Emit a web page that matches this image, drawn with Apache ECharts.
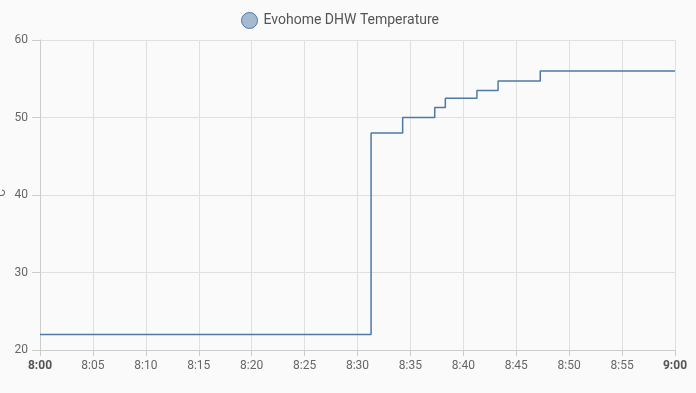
<!DOCTYPE html>
<html>
<head>
<meta charset="utf-8">
<script src="https://cdn.jsdelivr.net/npm/echarts@6/dist/echarts.min.js"></script>
<style>
html,body{margin:0;padding:0;background:#fafafa;}
#chart{width:696px;height:393px;}
</style>
</head>
<body>
<div id="chart"></div>
<script>
const seriesName = "Evohome DHW Temperature";
const yAxisName = "°C";
const times = ["8:00:00","8:31:17","8:34:16","8:37:18","8:38:18","8:41:17","8:43:17","8:47:16","9:00:00"];
const values = [22, 48, 50, 51.3, 52.5, 53.5, 54.7, 56, 56];
const yTicks = [20, 30, 40, 50, 60];

function toDate(s){
  const p = s.split(":").map(Number);
  return new Date(2024, 0, 15, p[0], p[1], p[2]).getTime();
}
const data = times.map((t,i)=>[toDate(t), values[i]]);
const xMin = toDate("8:00:00"), xMax = toDate("9:00:00");
const step = 5*60*1000;

const chart = echarts.init(document.getElementById('chart'));
chart.setOption({
  backgroundColor: '#fafafa',
  animation: false,
  textStyle: {fontFamily: 'Roboto'},
  legend: {
    top: 7,
    left: 236,
    icon: 'circle',
    itemWidth: 16, itemHeight: 16,
    itemGap: 10,
    textStyle: {fontSize: 14, color: '#555', fontFamily: 'Roboto', padding: [0,0,0,1]},
    itemStyle: {color: 'rgba(78,121,167,0.5)', borderColor: '#4e79a7', borderWidth: 1},
    data: [seriesName]
  },
  grid: {left: 40, right: 21, top: 40, bottom: 43, containLabel: false, outerBoundsMode: 'none'},
  xAxis: {
    type: 'value',
    min: xMin, max: xMax,
    interval: step,
    axisLine: {show: true, lineStyle: {color: '#ccc'}},
    axisTick: {show: true, length: 6, lineStyle: {color: '#ccc'}},
    splitLine: {show: true, lineStyle: {color: '#e0e0e0'}},
    axisLabel: {
      fontSize: 12, color: '#666', margin: 10, hideOverlap: false, showMinLabel: true, showMaxLabel: true,
      formatter: function(v){
        const d = new Date(v);
        const s = d.getHours() + ":" + String(d.getMinutes()).padStart(2,'0');
        return d.getMinutes() === 0 ? '{b|' + s + '}' : s;
      },
      rich: {b: {fontWeight: 'bold', fontSize: 12, color: '#555'}}
    }
  },
  yAxis: {
    type: 'value',
    min: yTicks[0], max: yTicks[yTicks.length-1], interval: 10,
    name: yAxisName,
    nameLocation: 'middle',
    nameGap: 32,
    nameMoveOverlap: false,
    nameRotate: 90,
    nameTextStyle: {fontSize: 12, color: '#666'},
    axisLine: {show: true, lineStyle: {color: '#ccc'}},
    axisTick: {show: true, length: 8, lineStyle: {color: '#ccc'}},
    splitLine: {show: true, lineStyle: {color: '#e0e0e0'}},
    axisLabel: {fontSize: 12, color: '#666', margin: 12}
  },
  series: [{
    name: seriesName,
    type: 'line',
    step: 'end',
    showSymbol: false,
    symbol: 'circle',
    data: data,
    color: '#4e79a7',
    lineStyle: {width: 1.5, color: '#4e79a7'}
  }]
});
</script>
</body>
</html>
